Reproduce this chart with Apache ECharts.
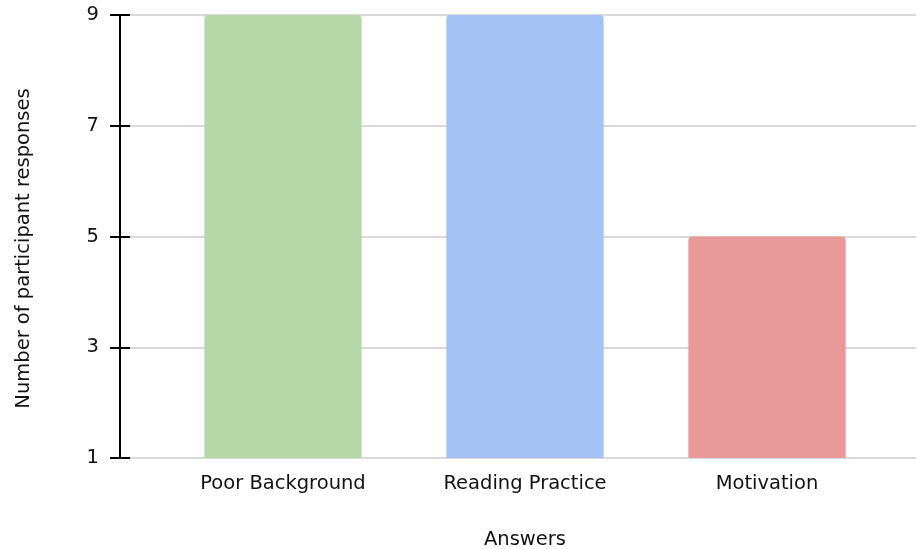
<!DOCTYPE html>
<html>
<head>
<meta charset="utf-8">
<script src="https://cdn.jsdelivr.net/npm/echarts@6/dist/echarts.min.js"></script>
<style>
  html, body { margin: 0; padding: 0; background: #fff; }
  #main { width: 917px; height: 549px; }
</style>
</head>
<body>
<div id="main"></div>
<script>
var categories = ['Poor Background', 'Reading Practice', 'Motivation'];
var responses = [9, 9, 5];
var barColors = ['#b6d7a8', '#a4c2f4', '#ea9999'];
var yTicks = [1, 3, 5, 7, 9];

var chart = echarts.init(document.getElementById('main'));
var font = 'DejaVu Sans, Verdana, sans-serif';
var fs = 19.5;

option = {
    animation: false,
    grid: [
        // frame grid: y axis, split lines
        { left: 120, right: 1, top: 15, bottom: 91, outerBoundsMode: 'none' },
        // bar grid: categories sit inside with padding at both ends
        { left: 162, right: 29, top: 15, bottom: 91, outerBoundsMode: 'none' }
    ],
    xAxis: [
        { gridIndex: 0, type: 'value', show: false, min: 0, max: 1 },
        {
            gridIndex: 1,
            type: 'category',
            data: categories,
            axisLine: { show: false },
            axisTick: { show: false },
            axisLabel: { color: '#111', fontFamily: font, fontSize: fs, margin: 16 },
            name: 'Answers',
            nameLocation: 'middle',
            nameGap: 72,
            nameTextStyle: { color: '#111', fontFamily: font, fontSize: fs }
        }
    ],
    yAxis: [
        {
            gridIndex: 0,
            type: 'value',
            min: yTicks[0],
            max: yTicks[yTicks.length - 1],
            interval: 2,
            axisLine: { show: true, lineStyle: { color: '#000', width: 2 } },
            axisTick: { show: true, length: 10, lineStyle: { color: '#000', width: 2 } },
            axisLabel: { color: '#111', fontFamily: font, fontSize: fs, margin: 21 },
            splitLine: { show: true, lineStyle: { color: '#cccccc', width: 1.5 } },
            name: 'Number of participant responses',
            nameLocation: 'middle',
            nameGap: 86,
            nameTextStyle: { color: '#111', fontFamily: font, fontSize: fs, padding: [0, 24, 0, 0] }
        },
        {
            // inner half of the ticks
            gridIndex: 0,
            type: 'value',
            position: 'left',
            min: yTicks[0],
            max: yTicks[yTicks.length - 1],
            interval: 2,
            axisLine: { show: false },
            axisTick: { show: true, inside: true, length: 10, lineStyle: { color: '#000', width: 2 } },
            axisLabel: { show: false },
            splitLine: { show: false }
        },
        {
            gridIndex: 1,
            type: 'value',
            show: false,
            min: yTicks[0],
            max: yTicks[yTicks.length - 1],
            startValue: yTicks[0]
        }
    ],
    series: [
        {
            type: 'bar',
            xAxisIndex: 1,
            yAxisIndex: 2,
            barWidth: '65%',
            data: responses.map(function (v, i) {
                return { value: v, itemStyle: { color: barColors[i] } };
            }),
            itemStyle: { borderRadius: [4, 4, 0, 0] }
        }
    ]
};

chart.setOption(option);
</script>
</body>
</html>
